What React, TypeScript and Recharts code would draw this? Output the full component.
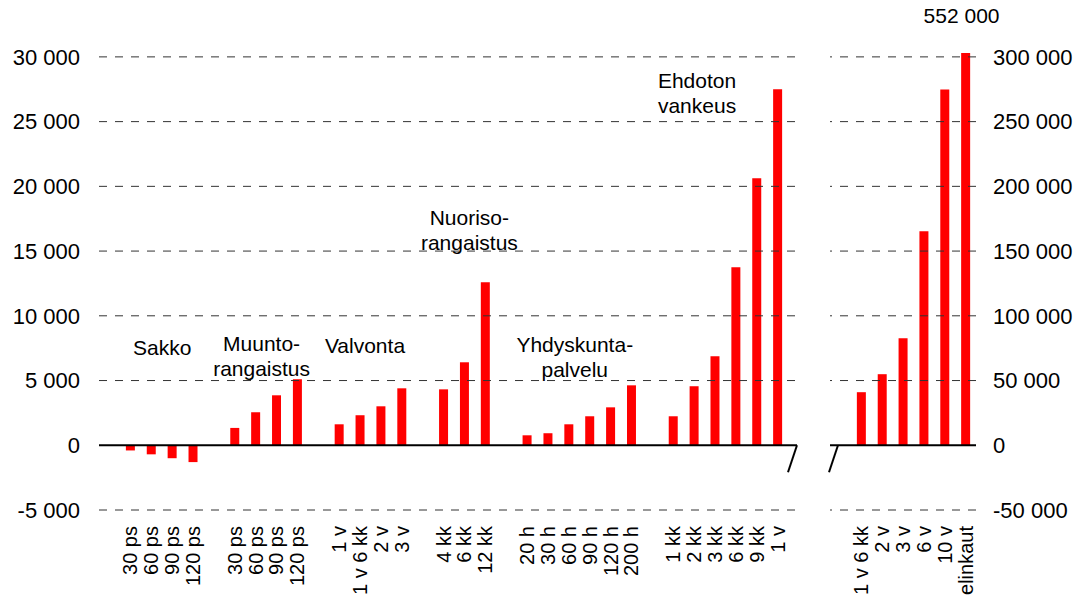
import { BarChart, Bar, XAxis, YAxis, ReferenceLine, ReferenceDot } from "recharts";

const FONT = "'Liberation Sans', Arial, sans-serif";

// group data
const sakkoLabels = ["30 ps", "60 ps", "90 ps", "120 ps"];
const sakkoValues = [-400, -700, -1000, -1300];
const muuntoLabels = ["30 ps", "60 ps", "90 ps", "120 ps"];
const muuntoValues = [1340, 2550, 3860, 5100];
const valvontaLabels = ["1 v", "1 v 6 kk", "2 v", "3 v"];
const valvontaValues = [1620, 2320, 3010, 4400];
const nuorisoLabels = ["4 kk", "6 kk", "12 kk"];
const nuorisoValues = [4320, 6410, 12600];
const yhdyskuntaLabels = ["20 h", "30 h", "60 h", "90 h", "120 h", "200 h"];
const yhdyskuntaValues = [770, 930, 1620, 2240, 2930, 4630];
const ehdotonLabels = ["1 kk", "2 kk", "3 kk", "6 kk", "9 kk", "1 v"];
const ehdotonValues = [2240, 4560, 6880, 13750, 20620, 27500];
const pitkatLabels = ["1 v 6 kk", "2 v", "3 v", "6 v", "10 v", "elinkaut"];
const pitkatValues = [41000, 54900, 82700, 165300, 274800, 552000];

const leftTicks = [-5000, 0, 5000, 10000, 15000, 20000, 25000, 30000];
const rightTicks = [-50000, 0, 50000, 100000, 150000, 200000, 250000, 300000];

const LEFT_DOMAIN: [number, number] = [-5000, 30300];
const RIGHT_DOMAIN: [number, number] = [-50000, 303000];

type Row = { key: string; label: string; value: number | null };

function buildRows(prefix: string, groups: { labels: string[]; values: number[] }[]) {
  const rows: Row[] = [];
  const keys: string[][] = [];
  let n = 0;
  groups.forEach((g) => {
    rows.push({ key: `${prefix}${n++}`, label: "", value: null });
    keys.push(
      g.labels.map((l, i) => {
        const key = `${prefix}${n++}`;
        rows.push({ key, label: l, value: g.values[i] });
        return key;
      })
    );
  });
  return { rows, keys };
}

const left = buildRows("L", [
  { labels: sakkoLabels, values: sakkoValues },
  { labels: muuntoLabels, values: muuntoValues },
  { labels: valvontaLabels, values: valvontaValues },
  { labels: nuorisoLabels, values: nuorisoValues },
  { labels: yhdyskuntaLabels, values: yhdyskuntaValues },
  { labels: ehdotonLabels, values: ehdotonValues },
]);
const right = buildRows("R", [{ labels: pitkatLabels, values: pitkatValues }]);

const labelOf: Record<string, string> = {};
[...left.rows, ...right.rows].forEach((r) => (labelOf[r.key] = r.label));

// group captions: anchored at a bar of the group, y = baseline of first line
const groupNotes = [
  { lines: ["Sakko"], key: left.keys[0][1], y: 7000, dx: 11 },
  { lines: ["Muunto-", "rangaistus"], key: left.keys[1][1], y: 7300, dx: 6 },
  { lines: ["Valvonta"], key: left.keys[2][1], y: 7100, dx: 5 },
  { lines: ["Nuoriso-", "rangaistus"], key: left.keys[3][1], y: 17000, dx: 5 },
  { lines: ["Yhdyskunta-", "palvelu"], key: left.keys[4][2], y: 7200, dx: 6 },
  { lines: ["Ehdoton", "vankeus"], key: left.keys[5][1], y: 27600, dx: 3 },
];

const fmt = (v: number) => String(v).replace(/\B(?=(\d{3})+(?!\d))/g, " ");

function XTick(props: any) {
  const { x, y, payload } = props;
  const text = labelOf[payload.value] ?? "";
  return (
    <text
      x={x}
      y={y}
      transform={`rotate(-90 ${x} ${y})`}
      textAnchor="end"
      dy="0.35em"
      fontSize={20}
      fontFamily={FONT}
      fill="#000"
    >
      {text}
    </text>
  );
}

function Note(props: any) {
  const { cx, cy, lines, dx } = props;
  return (
    <text textAnchor="middle" fontSize={21} fontFamily={FONT} fill="#000">
      {lines.map((l: string, i: number) => (
        <tspan key={i} x={cx + dx} y={cy + i * 25}>
          {l}
        </tspan>
      ))}
    </text>
  );
}

const TOP = 53;
const PLOT_H = 457;
const AXIS_H = 599 - TOP - PLOT_H;
const zeroY = TOP + (PLOT_H * LEFT_DOMAIN[1]) / (LEFT_DOMAIN[1] - LEFT_DOMAIN[0]);
const LEFT_PLOT_RIGHT = 797;
const RIGHT_PLOT_LEFT = 830;

const GRID = "#333";

export default function App() {
  const tickStyle = { fontSize: 22, fontFamily: FONT, fill: "#000" };
  return (
    <div style={{ position: "absolute", left: 0, top: 0, width: 1082, height: 599, background: "#fff" }}>
      <div style={{ position: "absolute", left: 0, top: 0 }}>
        <BarChart width={810} height={599} data={left.rows} margin={{ top: TOP, right: 13, left: 0, bottom: 0 }} barSize={9}>
          {leftTicks
            .filter((t) => t !== 0)
            .map((t) => (
              <ReferenceLine key={t} y={t} stroke={GRID} strokeDasharray="8 8" />
            ))}
          <XAxis
            dataKey="key"
            interval={0}
            axisLine={false}
            tickLine={false}
            tickSize={0}
            tickMargin={16}
            height={AXIS_H}
            padding={{ left: 0, right: 9 }}
            tick={<XTick />}
          />
          <YAxis
            domain={LEFT_DOMAIN}
            allowDataOverflow
            ticks={leftTicks}
            interval={0}
            width={99}
            axisLine={false}
            tickLine={false}
            tickSize={0}
            tickMargin={19}
            tickFormatter={fmt}
            tick={tickStyle}
          />
          <Bar dataKey="value" fill="#ff0000" isAnimationActive={false} />
          <ReferenceLine y={0} stroke="#000" strokeWidth={2} />
          {groupNotes.map((g, i) => (
            <ReferenceDot
              key={i}
              x={g.key}
              y={g.y}
              r={0}
              ifOverflow="visible"
              shape={(p: any) => <Note cx={p.cx} cy={p.cy} lines={g.lines} dx={g.dx} />}
            />
          ))}
        </BarChart>
      </div>
      <div style={{ position: "absolute", left: 810, top: 0 }}>
        <BarChart width={272} height={599} data={right.rows} margin={{ top: TOP, right: 0, left: RIGHT_PLOT_LEFT - 810, bottom: 0 }} barSize={9}>
          {rightTicks
            .filter((t) => t !== 0)
            .map((t) => (
              <ReferenceLine key={t} y={t} stroke={GRID} strokeDasharray="8 8" />
            ))}
          <XAxis
            dataKey="key"
            interval={0}
            axisLine={false}
            tickLine={false}
            tickSize={0}
            tickMargin={16}
            height={AXIS_H}
            tick={<XTick />}
          />
          <YAxis
            orientation="right"
            domain={RIGHT_DOMAIN}
            allowDataOverflow
            ticks={rightTicks}
            interval={0}
            width={106}
            axisLine={false}
            tickLine={false}
            tickSize={0}
            tickMargin={17}
            tickFormatter={fmt}
            tick={{ ...tickStyle, textAnchor: "start" }}
          />
          <Bar dataKey="value" fill="#ff0000" isAnimationActive={false} />
          <ReferenceLine y={0} stroke="#000" strokeWidth={2} />
          <ReferenceDot
            x={right.keys[0][5]}
            y={326000}
            r={0}
            ifOverflow="visible"
            shape={(p: any) => <Note cx={p.cx} cy={p.cy} lines={[fmt(pitkatValues[5])]} dx={-4} />}
          />
        </BarChart>
      </div>
      {/* axis break marks */}
      <svg width={1082} height={599} style={{ position: "absolute", left: 0, top: 0, pointerEvents: "none" }}>
        <line x1={LEFT_PLOT_RIGHT} y1={zeroY} x2={LEFT_PLOT_RIGHT - 9} y2={zeroY + 27} stroke="#000" strokeWidth={2} />
        <line x1={RIGHT_PLOT_LEFT + 8} y1={zeroY} x2={RIGHT_PLOT_LEFT - 1} y2={zeroY + 27} stroke="#000" strokeWidth={2} />
      </svg>
    </div>
  );
}
